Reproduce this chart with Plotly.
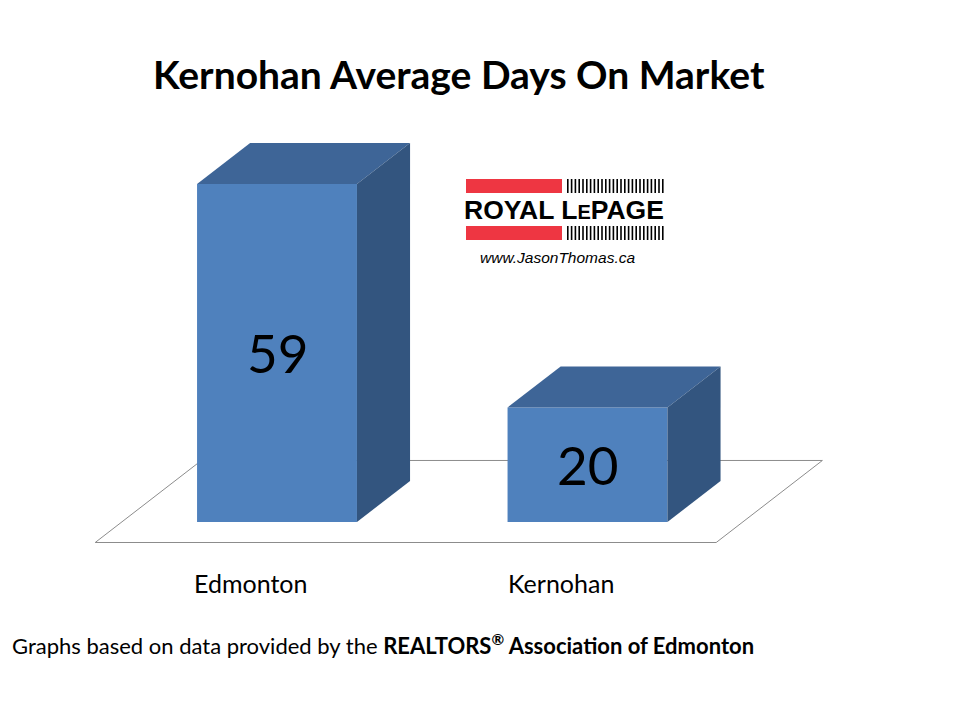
import plotly.graph_objects as go

# ---------------- data ----------------
categories = ["Edmonton", "Kernohan"]
avg_days = [59, 20]
value_labels = ["59", "20"]

title_text = "Kernohan Average Days On Market"
footer_text = ("Graphs based on data provided by the "
               "<b>REALTORS<sup>®</sup> Association of Edmonton</b>")

# ---------------- styling / geometry ----------------
FRONT = "#4F81BD"
TOP = "#3E6597"
SIDE = "#33557F"
FLOOR_LINE = "#8C8C8C"
FONT = "Lato"

BAR_W = 0.515        # bar width in category units
DEPTH_DX = 0.171     # horizontal shift per unit depth (category units)
DEPTH_DY = 7.16      # vertical shift per unit depth (value units)

W, H = 960, 720
OFF = 8  # page body margin offset


def px(x):
    return (x - OFF) / W


def py(y):
    return 1 - (y - OFF) / H


def proj(u, v, z):
    return u + z * DEPTH_DX, v + z * DEPTH_DY


def poly(pts, color, line_color=None, width=0):
    xs = [p[0] for p in pts] + [pts[0][0]]
    ys = [p[1] for p in pts] + [pts[0][1]]
    return go.Scatter(
        x=xs, y=ys, mode="lines", fill="toself", fillcolor=color,
        line=dict(color=line_color or color, width=width),
        hoverinfo="skip", showlegend=False,
    )


fig = go.Figure()

# floor (value 0 plane, depth -0.5 .. 1.5)
n = len(categories)
floor_pts = [proj(-0.5, 0, -0.5), proj(n - 0.5, 0, -0.5),
             proj(n - 0.5, 0, 1.5), proj(-0.5, 0, 1.5)]
fig.add_trace(poly(floor_pts, "white", FLOOR_LINE, 1))

# 3D bars
for i, val in enumerate(avg_days):
    l, r = i - BAR_W / 2, i + BAR_W / 2
    front = [proj(l, 0, 0), proj(r, 0, 0), proj(r, val, 0), proj(l, val, 0)]
    top = [proj(l, val, 0), proj(r, val, 0), proj(r, val, 1), proj(l, val, 1)]
    side = [proj(r, 0, 0), proj(r, 0, 1), proj(r, val, 1), proj(r, val, 0)]
    fig.add_trace(poly(front, FRONT))
    fig.add_trace(poly(top, TOP))
    fig.add_trace(poly(side, SIDE))

# value labels in bars
for i, (val, lab) in enumerate(zip(avg_days, value_labels)):
    fig.add_annotation(x=i, y=val / 2, xref="x", yref="y", text=lab,
                       showarrow=False, font=dict(family=FONT, size=53, color="black"),
                       xanchor="center", yanchor="middle")

# category labels (under the floor front edge)
for i, cat in enumerate(categories):
    fx, _ = proj(i, 0, -0.5)
    fig.add_annotation(x=fx, y=py(583), xref="x", yref="paper", text=cat,
                       showarrow=False, font=dict(family=FONT, size=25, color="black"),
                       xanchor="center", yanchor="middle")

# title
fig.add_annotation(x=px(459), y=py(74), xref="paper", yref="paper",
                   text="<b>" + title_text + "</b>", showarrow=False,
                   font=dict(family=FONT, size=39, color="black"),
                   xanchor="center", yanchor="middle")

# footer
fig.add_annotation(x=px(10), y=py(644), xref="paper", yref="paper",
                   text=footer_text, showarrow=False,
                   font=dict(family=FONT, size=22, color="black"),
                   xanchor="left", yanchor="middle")


# ---------------- logo ----------------
def px_rect(x0, y0, x1, y1, color):
    fig.add_shape(type="rect", xref="paper", yref="paper",
                  x0=px(x0), x1=px(x1), y0=py(y1), y1=py(y0),
                  fillcolor=color, line=dict(width=0), layer="above")


RED = "#EE3642"
px_rect(466, 179, 562, 193, RED)
px_rect(466, 226, 562, 240, RED)
x = 567.0
while x < 662:
    px_rect(x, 179, x + 1.6, 193, "black")
    px_rect(x, 226, x + 1.6, 240, "black")
    x += 3.8

fig.add_annotation(x=px(564), y=py(210), xref="paper", yref="paper",
                   text="<b>ROYAL L<span style='font-size:20px'>E</span>PAGE</b>",
                   showarrow=False,
                   font=dict(family="Liberation Sans", size=26.5, color="black"),
                   xanchor="center", yanchor="middle")
fig.add_annotation(x=px(557), y=py(257), xref="paper", yref="paper",
                   text="<i>www.JasonThomas.ca</i>", showarrow=False,
                   font=dict(family="Liberation Sans", size=15.5, color="black"),
                   xanchor="center", yanchor="middle")

# ---------------- axes mapping ----------------
# reference pixel x = 277 + 310.5 * u ; pixel y = 522 - 5.729 * v
X0, XS = 277 - OFF, 310.5
Y0, YS = 522 - OFF, 5.729
x_range = [(0 - X0) / XS, (W - X0) / XS]
y_range = [(Y0 - H) / YS, Y0 / YS]

fig.update_layout(
    width=W, height=H,
    margin=dict(l=0, r=0, t=0, b=0),
    paper_bgcolor="white", plot_bgcolor="white",
    xaxis=dict(range=x_range, visible=False, fixedrange=True),
    yaxis=dict(range=y_range, visible=False, fixedrange=True),
    showlegend=False,
)

fig.write_html("out.html")
